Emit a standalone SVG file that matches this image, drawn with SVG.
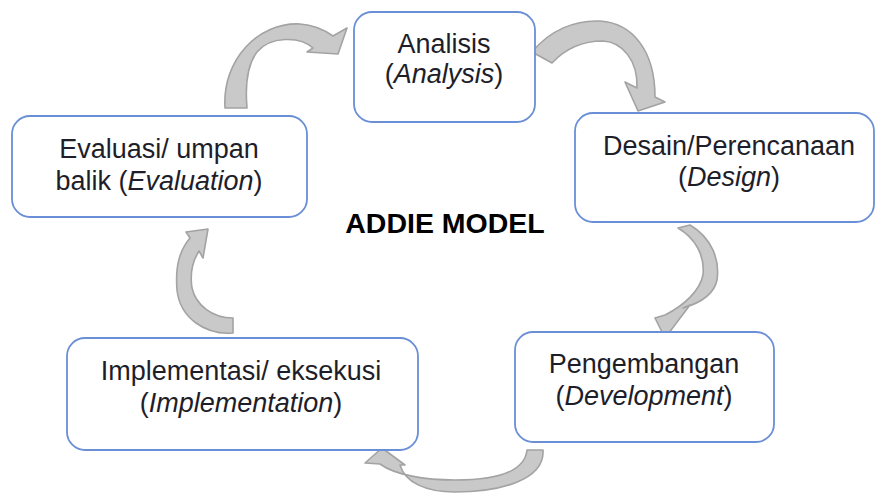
<svg xmlns="http://www.w3.org/2000/svg" width="876" height="493" viewBox="0 0 876 493">
<style>
.box{fill:#fff;stroke:#6b8fd6;stroke-width:1.8}
.t{font-family:"Liberation Sans",Arial,sans-serif;font-size:27px;fill:#1e1e2a;text-anchor:middle}
.i{font-style:italic}
.arr{fill:#c9c9c9;stroke:#a3a3a3;stroke-width:1.6;stroke-linejoin:round}
.title{font-family:"Liberation Sans",Arial,sans-serif;font-size:28.5px;font-weight:bold;fill:#000;text-anchor:middle}
</style>
<rect width="876" height="493" fill="#fff"/>
<g id="connectors">
<path class="arr" d="M225,108 C222,60 258,22 300,24 C315,25 326,31 333,36 L347,28 L338,54 L307,52 L313,48 C300,36 270,36 257,52 C248,64 245,85 247,108 Z"/>
<path class="arr" d="M532,52 C550,30 575,20 600,21 C632,23 655,50 655,97 L665,102 L638,111 L625,82 L637,88 C638,60 622,42 603,41 C583,41 565,49 552,63 Z"/>
<path class="arr" d="M690,225 C712,238 720,260 717,280 C714,295 700,303 683,308 L690,305 L665,338 L655,318 L665,315 C685,305 700,290 703,275 C705,255 695,238 678,228 Z"/>
<path class="arr" d="M543,450 C545,480 500,492 455,492 C425,492 405,482 400,465 L405,465 L382,448 L365,463 L380,464 C395,475 425,480 455,480 C500,480 525,470 527,450 Z"/>
<path class="arr" d="M233,333 C205,335 180,318 177,290 C175,265 180,250 190,238 L186,232 L208,229 L203,258 L199,251 C192,262 190,275 192,288 C196,305 212,318 233,318 Z"/>
</g>
<g id="analisis">
<rect class="box" x="354" y="12" width="181" height="110" rx="18"/>
<text class="t" x="444" y="53">Analisis</text>
<text class="t" x="444" y="83">(<tspan class="i">Analysis</tspan>)</text>
</g>
<g id="desain">
<rect class="box" x="575" y="113" width="299" height="109" rx="18"/>
<text class="t" x="729" y="155">Desain/Perencanaan</text>
<text class="t" x="729" y="186">(<tspan class="i">Design</tspan>)</text>
</g>
<g id="pengembangan">
<rect class="box" x="515" y="332" width="259" height="110" rx="18"/>
<text class="t" x="644" y="373">Pengembangan</text>
<text class="t" x="644" y="405">(<tspan class="i">Development</tspan>)</text>
</g>
<g id="implementasi">
<rect class="box" x="67" y="338" width="351" height="112" rx="18"/>
<text class="t" x="241" y="380">Implementasi/ eksekusi</text>
<text class="t" x="241" y="412">(<tspan class="i">Implementation</tspan>)</text>
</g>
<g id="evaluasi">
<rect class="box" x="12" y="116" width="295" height="101" rx="18"/>
<text class="t" x="159" y="158">Evaluasi/ umpan</text>
<text class="t" x="159" y="190">balik (<tspan class="i">Evaluation</tspan>)</text>
</g>
<text class="title" x="445" y="233">ADDIE MODEL</text>
</svg>
